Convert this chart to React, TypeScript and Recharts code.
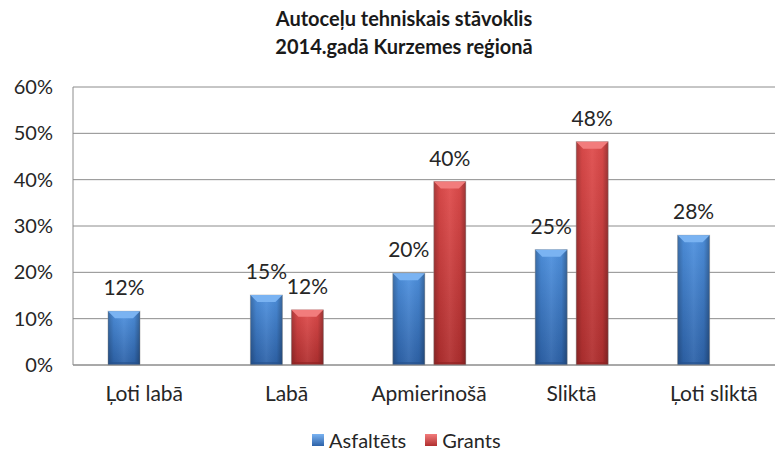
import React from "react";
import {
  BarChart,
  Bar,
  XAxis,
  YAxis,
  CartesianGrid,
  Legend,
  LabelList,
} from "recharts";

const categories = ["Ļoti labā", "Labā", "Apmierinošā", "Sliktā", "Ļoti sliktā"];
const asfaltets = [11.6, 15.1, 19.8, 24.9, 28.0];
const grants: (number | null)[] = [null, 11.9, 39.6, 48.2, null];
const yTicks = [0, 10, 20, 30, 40, 50, 60];

const data = categories.map((name, i) => ({
  name,
  asfaltets: asfaltets[i],
  grants: grants[i],
}));

const FONT = "Lato, 'Liberation Sans', sans-serif";

const palette = {
  blue: { top: "#4f92e0", bottom: "#2d62a8", bevel: "#7ab3f2", edge: "#24508c" },
  red: { top: "#e04c4c", bottom: "#b02f2f", bevel: "#f27c7c", edge: "#8f2222" },
};

function BevelBar(props: any) {
  const { x, y, width, height, tone } = props;
  if (!height || height <= 0) return null;
  const c = palette[tone as "blue" | "red"];
  const b = Math.min(7, height / 2);
  return (
    <g>
      <rect x={x} y={y} width={width} height={height} fill={`url(#v-${tone})`} stroke="#9a9a9a" strokeOpacity={0.5} strokeWidth={1} />
      <rect x={x} y={y} width={width} height={height} fill="url(#side)" />
      <polygon
        points={`${x},${y} ${x + width},${y} ${x + width - b},${y + b} ${x + b},${y + b}`}
        fill={c.bevel}
      />
      <polygon
        points={`${x},${y + height} ${x + width},${y + height} ${x + width - 3},${y + height - 3} ${x + 3},${y + height - 3}`}
        fill={c.edge}
        opacity={0.6}
      />
    </g>
  );
}

function LegendContent() {
  const items = [
    { label: "Asfaltēts", tone: "blue" as const },
    { label: "Grants", tone: "red" as const },
  ];
  return (
    <div
      style={{
        display: "flex",
        alignItems: "center",
        height: 24,
        paddingLeft: 312,
        fontFamily: FONT,
        fontSize: 20,
        lineHeight: "24px",
        color: "#262626",
      }}
    >
      {items.map((it) => (
        <div key={it.label} style={{ display: "flex", alignItems: "center", marginRight: 19 }}>
          <span
            style={{
              display: "inline-block",
              width: 12,
              height: 12,
              marginRight: 5,
              background: `linear-gradient(${palette[it.tone].bevel}, ${palette[it.tone].bottom})`,
            }}
          />
          {it.label}
        </div>
      ))}
    </div>
  );
}

export default function App() {
  return (
    <div style={{ position: "absolute", left: 0, top: 0, width: 775, height: 452, overflow: "hidden", background: "#fff" }}>
      <div
        style={{
          position: "absolute",
          left: 0,
          top: 4,
          width: 808,
          textAlign: "center",
          fontFamily: FONT,
          fontWeight: 700,
          fontSize: 20,
          lineHeight: "28px",
          color: "#1a1a1a",
        }}
      >
        Autoceļu tehniskais stāvoklis
        <br />
        2014.gadā Kurzemes reģionā
      </div>
      <BarChart
        width={790}
        height={452}
        data={data}
        margin={{ top: 87, right: 5, left: 0, bottom: 0 }}
        barSize={32}
        barGap={9}
      >
        <defs>
          <linearGradient id="v-blue" x1="0" y1="0" x2="0" y2="1">
            <stop offset="0%" stopColor={palette.blue.top} />
            <stop offset="100%" stopColor={palette.blue.bottom} />
          </linearGradient>
          <linearGradient id="v-red" x1="0" y1="0" x2="0" y2="1">
            <stop offset="0%" stopColor={palette.red.top} />
            <stop offset="100%" stopColor={palette.red.bottom} />
          </linearGradient>
          <linearGradient id="side" x1="0" y1="0" x2="1" y2="0">
            <stop offset="0%" stopColor="#000" stopOpacity={0.25} />
            <stop offset="18%" stopColor="#000" stopOpacity={0.05} />
            <stop offset="50%" stopColor="#fff" stopOpacity={0.06} />
            <stop offset="82%" stopColor="#000" stopOpacity={0.05} />
            <stop offset="100%" stopColor="#000" stopOpacity={0.3} />
          </linearGradient>
        </defs>
        <CartesianGrid vertical={false} stroke="#8c8c8c" />
        <XAxis
          dataKey="name"
          height={63}
          tickLine={false}
          axisLine={{ stroke: "#8c8c8c" }}
          tickMargin={15}
          tick={{ fontSize: 21, fill: "#262626", fontFamily: FONT }}
          interval={0}
        />
        <YAxis
          width={73}
          domain={[0, 60]}
          ticks={yTicks}
          tickLine={false}
          axisLine={{ stroke: "#8c8c8c" }}
          tickMargin={14}
          tickFormatter={(v: number) => `${v}%`}
          tick={{ fontSize: 20, fill: "#262626", fontFamily: FONT }}
        />
        <Legend verticalAlign="bottom" height={24} content={<LegendContent />} />
        <Bar dataKey="asfaltets" name="Asfaltēts" isAnimationActive={false} shape={(p: any) => <BevelBar {...p} tone="blue" />}>
          <LabelList
            dataKey="asfaltets"
            position="top"
            offset={16}
            formatter={(v: any) => (v == null ? "" : `${Math.round(v)}%`)}
            style={{ fontSize: 21, fill: "#262626", fontFamily: FONT }}
          />
        </Bar>
        <Bar dataKey="grants" name="Grants" isAnimationActive={false} shape={(p: any) => <BevelBar {...p} tone="red" />}>
          <LabelList
            dataKey="grants"
            position="top"
            offset={16}
            formatter={(v: any) => (v == null ? "" : `${Math.round(v)}%`)}
            style={{ fontSize: 21, fill: "#262626", fontFamily: FONT }}
          />
        </Bar>
      </BarChart>
    </div>
  );
}
